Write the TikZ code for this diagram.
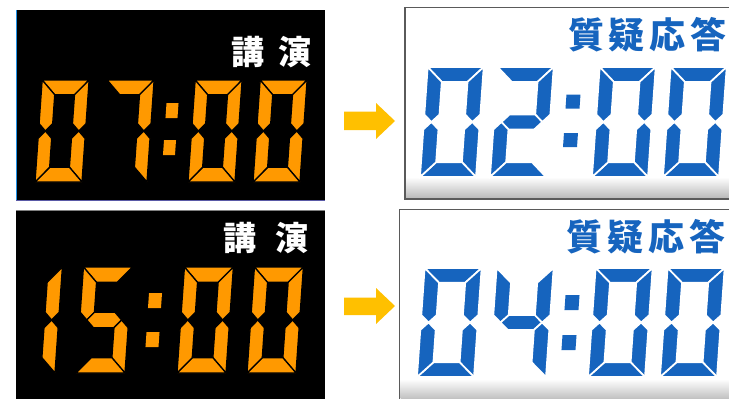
\documentclass[tikz,border=0pt]{standalone}
\usepackage{fontspec}
\newfontfamily\cjk{Noto Sans CJK JP}
\definecolor{lcdorange}{RGB}{255,153,0}
\definecolor{lcdblue}{RGB}{22,100,190}
\definecolor{arrowgold}{RGB}{255,192,0}
\definecolor{panelline}{RGB}{90,90,90}
\definecolor{edgeblue}{RGB}{30,144,230}
\newcommand\segt{0.25}
\tikzset{
  seg a/.style={insert path={(0,2)--(1,2)--(1-\segt,2-\segt)--(\segt,2-\segt)--cycle}},
  seg d/.style={insert path={(0,0)--(1,0)--(1-\segt,\segt)--(\segt,\segt)--cycle}},
  seg f/.style={insert path={(0,2)--(\segt,2-\segt)--(\segt,1+\segt/2)--(\segt/2,1)--(0,1+\segt/2)--cycle}},
  seg e/.style={insert path={(0,0)--(\segt,\segt)--(\segt,1-\segt/2)--(\segt/2,1)--(0,1-\segt/2)--cycle}},
  seg b/.style={insert path={(1,2)--(1,1+\segt/2)--(1-\segt/2,1)--(1-\segt,1+\segt/2)--(1-\segt,2-\segt)--cycle}},
  seg c/.style={insert path={(1,0)--(1,1-\segt/2)--(1-\segt/2,1)--(1-\segt,1-\segt/2)--(1-\segt,\segt)--cycle}},
  seg g/.style={insert path={(\segt/2,1)--(\segt,1+\segt/2)--(1-\segt,1+\segt/2)--(1-\segt/2,1)--(1-\segt,1-\segt/2)--(\segt,1-\segt/2)--cycle}},
  orangeseg/.style={fill=lcdorange, draw=black, line width=1.3pt, line join=miter},
  blueseg/.style={fill=lcdblue, draw=white, line width=1.7pt, line join=miter},
  blackpanel/.style={fill=black},
  whitepanel/.style={fill=white, draw=panelline, line width=1.4pt},
  blockarrow/.style={fill=arrowgold},
  lecture/.style={text=white, font=\cjk\bfseries\fontsize{33}{33}\selectfont, inner sep=0pt},
  qanda/.style={text=lcdblue, font=\cjk\bfseries\fontsize{36}{36}\selectfont, inner sep=0pt},
}
% #1 x0, #2 y bottom (image coords), #3 width, #4 height, #5 segments, #6 style, #7 thickness
\newcommand\lcddigit[7]{%
  \begin{scope}[shift={(#1,#2)}, xslant=0.07, xscale=#3, yscale=-#4/2]
    \def\segt{#7}%
    \foreach \s in {#5}{\path[#6, seg \s];}
  \end{scope}}
% #1 xc, #2 yc, #3 half width, #4 half height, #5 colour
\newcommand\lcddot[5]{%
  \begin{scope}[shift={(#1,#2)}, xslant=0.07, yscale=-1]
    \fill[#5] (-#3,-#4) rectangle (#3,#4);
  \end{scope}}
\begin{document}
\begin{tikzpicture}[x=1pt, y=-1pt]
\useasboundingbox (0,0) rectangle (729,399);
\clip (0,0) rectangle (729,399);
\fill[white] (0,0) rectangle (729,399);

% ---------- left panels ----------
\path[blackpanel] (16,10) rectangle (325,200);
\draw[edgeblue, line width=1pt] (16.5,10) -- (16.5,200);
\draw[gray!70!blue, line width=0.8pt] (16,200) -- (325,200);
\path[blackpanel] (16,210.5) rectangle (325,399);
\draw[gray, line width=0.8pt] (16,210) -- (325,210);

\node[lecture, anchor=center] (lec1) at (271.5,52) {講\hspace{14pt}演};
\node[lecture, anchor=center] (lec2) at (266,238) {講\hspace{20pt}演};

% 07:00
\lcddigit{35}{182}{47}{102}{a,b,c,d,e,f}{orangeseg}{0.29}
\lcddigit{100}{182}{47}{102}{a,b,c}{orangeseg}{0.29}
\lcddot{172}{110.5}{6}{7.5}{lcdorange}
\lcddot{169.5}{147.5}{6}{7.5}{lcdorange}
\lcddigit{188}{182}{47}{102}{a,b,c,d,e,f}{orangeseg}{0.29}
\lcddigit{253}{182}{47}{102}{a,b,c,d,e,f}{orangeseg}{0.29}

% 15:00
\lcddigit{6}{373}{49}{106}{b,c}{orangeseg}{0.29}
\lcddigit{76}{373}{49}{106}{a,f,g,c,d}{orangeseg}{0.29}
\lcddot{155}{300.5}{6.5}{7.5}{lcdorange}
\lcddot{152.5}{339.5}{6.5}{7.5}{lcdorange}
\lcddigit{177}{373}{49}{106}{a,b,c,d,e,f}{orangeseg}{0.29}
\lcddigit{247}{373}{49}{106}{a,b,c,d,e,f}{orangeseg}{0.29}

% ---------- arrows ----------
\path[blockarrow] (344,111.5) -- (376,111.5) -- (376,103) -- (395,121) -- (376,139) -- (376,130) -- (344,130) -- cycle;
\path[blockarrow] (344,297.5) -- (376,297.5) -- (376,288) -- (395,306) -- (376,324) -- (376,315) -- (344,315) -- cycle;

% ---------- right panels ----------
\path[whitepanel] (405,7.5) rectangle (740,199);
\shade[top color=white, bottom color=gray!55] (406,177) rectangle (740,198.3);
\draw[panelline, line width=1.4pt] (405,7.5) -- (405,199) -- (740,199);
\path[whitepanel] (399.5,209.5) rectangle (740,410);
\shade[top color=white, bottom color=gray!50] (400.5,379) rectangle (740,399);
\draw[panelline, line width=1.4pt] (399.5,410) -- (399.5,209.5) -- (740,209.5);

\node[qanda, anchor=center] (qa1) at (647.5,35) {質\hspace{5pt}疑\hspace{5pt}応\hspace{5pt}答};
\node[qanda, anchor=center] (qa2) at (646,236.5) {質\hspace{5pt}疑\hspace{5pt}応\hspace{5pt}答};

% 02:00
\lcddigit{420}{177}{56}{110}{a,b,c,d,e,f}{blueseg}{0.27}
\lcddigit{490}{177}{56}{110}{a,b,g,e,d}{blueseg}{0.27}
\lcddot{573}{101.5}{7}{7}{lcdblue}
\lcddot{570.5}{140}{7}{7}{lcdblue}
\lcddigit{592}{177}{56}{110}{a,b,c,d,e,f}{blueseg}{0.27}
\lcddigit{663}{177}{56}{110}{a,b,c,d,e,f}{blueseg}{0.27}

% 04:00
\lcddigit{417}{377}{57}{109}{a,b,c,d,e,f}{blueseg}{0.27}
\lcddigit{489}{377}{57}{109}{f,g,b,c}{blueseg}{0.27}
\lcddot{572}{302.5}{7}{7.5}{lcdblue}
\lcddot{569}{342.5}{7}{7.5}{lcdblue}
\lcddigit{588}{377}{57}{109}{a,b,c,d,e,f}{blueseg}{0.27}
\lcddigit{660}{377}{57}{109}{a,b,c,d,e,f}{blueseg}{0.27}
\end{tikzpicture}
\end{document}
